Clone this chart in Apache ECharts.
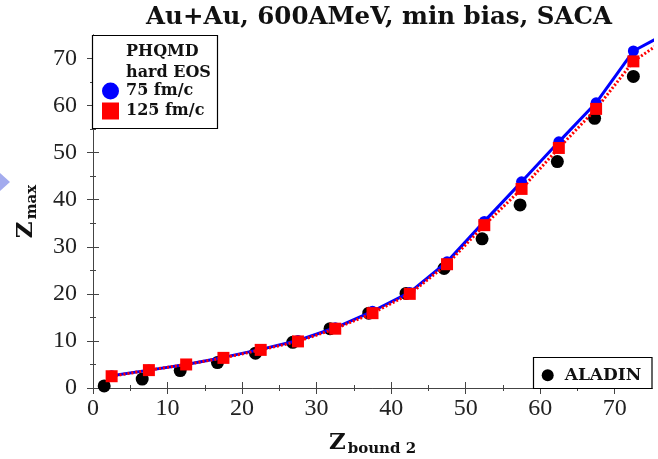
<!DOCTYPE html>
<html>
<head>
<meta charset="utf-8">
<script src="https://cdn.jsdelivr.net/npm/echarts@6/dist/echarts.min.js"></script>
<style>html,body{margin:0;padding:0;background:#fff}#c{width:658px;height:459px}</style>
</head>
<body>
<div id="c"></div>
<script>
// ---- data ----
const simX      = [2.5, 7.5, 12.5, 17.5, 22.5, 27.5, 32.5, 37.5, 42.5, 47.5, 52.5, 57.5, 62.5, 67.5, 72.5, 77.5];
const phqmd75   = [2.6, 3.8, 5.0, 6.5, 8.2, 10.1, 12.8, 16.3, 20.3, 26.8, 35.4, 43.8, 52.3, 60.6, 71.6, 75.8];
const phqmd125  = [2.5, 3.8, 5.0, 6.4, 8.1, 9.9, 12.6, 15.9, 20.0, 26.3, 34.6, 42.3, 51.0, 59.3, 69.4, 74.8];
const aladinX   = [1.5, 6.6, 11.7, 16.7, 21.8, 26.8, 31.8, 37.0, 42.0, 47.1, 52.2, 57.3, 62.3, 67.3, 72.5];
const aladinY   = [0.45, 1.9, 3.7, 5.4, 7.4, 9.7, 12.6, 15.9, 20.1, 25.4, 31.7, 38.9, 48.1, 57.3, 66.2];
const xTickLabels = [0, 10, 20, 30, 40, 50, 60, 70];
const yTickLabels = [0, 10, 20, 30, 40, 50, 60, 70];
const minorTicks  = [5, 15, 25, 35, 45, 55, 65];
const seriesNames = ['75 fm/c', '125 fm/c', 'ALADIN'];
const titleText = 'Au+Au, 600AMeV, min bias, SACA';

const zip = (xs, ys) => ys.map((y, i) => [xs[i], y]);

const chart = echarts.init(document.getElementById('c'), null, {renderer: 'canvas'});
const AX = '#444';
const serif = 'Liberation Serif';
const bserif = 'DejaVu Serif';

function axis(dim, pos, opts) {
  const base = {
    type: 'value', min: 0, max: 75, position: pos,
    axisLine: {show: opts.line, lineStyle: {color: AX, width: 1}},
    axisTick: {show: true, inside: true, length: opts.len, customValues: opts.ticks, lineStyle: {color: AX, width: 1}},
    axisLabel: {show: false},
    splitLine: {show: false}
  };
  return Object.assign(base, opts.extra || {});
}

const xAxes = [
  axis('x', 'bottom', {line: true, len: 6, ticks: xTickLabels, extra: {
    axisLabel: {show: true, customValues: xTickLabels, margin: 9, fontFamily: serif, fontSize: 24, color: '#222'},
    name: '{z|Z}{s|bound 2}', nameLocation: 'middle', nameGap: 42,
    nameTextStyle: {rich: {
      z: {fontFamily: bserif, fontWeight: 'bold', fontSize: 23, color: '#111'},
      s: {fontFamily: bserif, fontWeight: 'bold', fontSize: 15, color: '#111', padding: [12, 0, 0, 2]}
    }}
  }}),
  axis('x', 'bottom', {line: false, len: 3, ticks: minorTicks}),
  axis('x', 'top', {line: true, len: 6, ticks: xTickLabels}),
  axis('x', 'top', {line: false, len: 3, ticks: minorTicks})
];
const yAxes = [
  axis('y', 'left', {line: true, len: 6, ticks: yTickLabels, extra: {
    axisLabel: {show: true, customValues: yTickLabels, margin: 16, fontFamily: serif, fontSize: 24, color: '#222'},
    name: '{z|Z}{s|max}', nameLocation: 'middle', nameGap: 53, nameRotate: 90,
    nameTextStyle: {rich: {
      z: {fontFamily: bserif, fontWeight: 'bold', fontSize: 23, color: '#111'},
      s: {fontFamily: bserif, fontWeight: 'bold', fontSize: 15, color: '#111', padding: [12, 0, 0, 2]}
    }}
  }}),
  axis('y', 'left', {line: false, len: 3, ticks: minorTicks}),
  axis('y', 'right', {line: true, len: 6, ticks: yTickLabels}),
  axis('y', 'right', {line: false, len: 3, ticks: minorTicks})
];

const option = {
  animation: false,
  backgroundColor: '#fff',
  title: {
    text: titleText, left: 374, top: 0, textAlign: 'center',
    textStyle: {fontFamily: bserif, fontWeight: 'bold', fontSize: 24.5, color: '#111'}
  },
  grid: {left: 93, right: 6, top: 35, bottom: 71, containLabel: false, outerBoundsMode: 'none'},
  xAxis: xAxes,
  yAxis: yAxes,
  legend: [
    {
      data: [{name: seriesNames[0], icon: 'circle'}, {name: seriesNames[1], icon: 'rect'}],
      orient: 'vertical', left: 102, top: 82.5, padding: 0,
      itemWidth: 17, itemHeight: 17, itemGap: 3, selectedMode: false, z: 6,
      textStyle: {fontFamily: bserif, fontWeight: 'bold', fontSize: 16, color: '#111', padding: [0, 0, 0, 2]}
    },
    {
      data: [{name: seriesNames[2], icon: 'circle'}],
      left: 541.7, top: 366.7, padding: 0,
      itemWidth: 12, itemHeight: 12, selectedMode: false, z: 6,
      itemStyle: {opacity: 1},
      textStyle: {fontFamily: bserif, fontWeight: 'bold', fontSize: 17, color: '#111', padding: [0, 0, 0, 6]}
    }
  ],
  graphic: [
    {type: 'polygon', shape: {points: [[0, 173], [10, 182], [0, 191]]}, style: {fill: '#a3abee'}},
    {type: 'rect', z: 5, shape: {x: 92.5, y: 35.5, width: 125, height: 93}, style: {fill: '#fff', stroke: '#000', lineWidth: 1.2}},
    {type: 'rect', z: 5, shape: {x: 533.5, y: 357.5, width: 118.5, height: 31}, style: {fill: '#fff', stroke: '#000', lineWidth: 1.2}},
    {type: 'text', z: 6, style: {text: 'PHQMD', x: 126, y: 51.5, textVerticalAlign: 'middle', font: 'bold 16px "DejaVu Serif"', fill: '#111'}},
    {type: 'text', z: 6, style: {text: 'hard EOS', x: 126, y: 72.5, textVerticalAlign: 'middle', font: 'bold 16px "DejaVu Serif"', fill: '#111'}}
  ],
  series: [
    {
      name: seriesNames[0], type: 'line', data: zip(simX, phqmd75),
      symbol: 'circle', symbolSize: 11, color: '#0000ff',
      lineStyle: {color: '#0000ff', width: 3}, itemStyle: {color: '#0000ff'}, clip: true
    },
    {
      name: seriesNames[1], type: 'line', data: zip(simX, phqmd125),
      symbol: 'rect', symbolSize: 12, color: '#ff0000',
      lineStyle: {color: '#ff0000', width: 3, type: [2, 2]}, itemStyle: {color: '#ff0000'}, clip: true
    },
    {
      name: seriesNames[2], type: 'scatter', data: zip(aladinX, aladinY),
      symbol: 'circle', symbolSize: 13, color: '#000', itemStyle: {color: '#000', opacity: 1}
    }
  ]
};
chart.setOption(option);
</script>
</body>
</html>
